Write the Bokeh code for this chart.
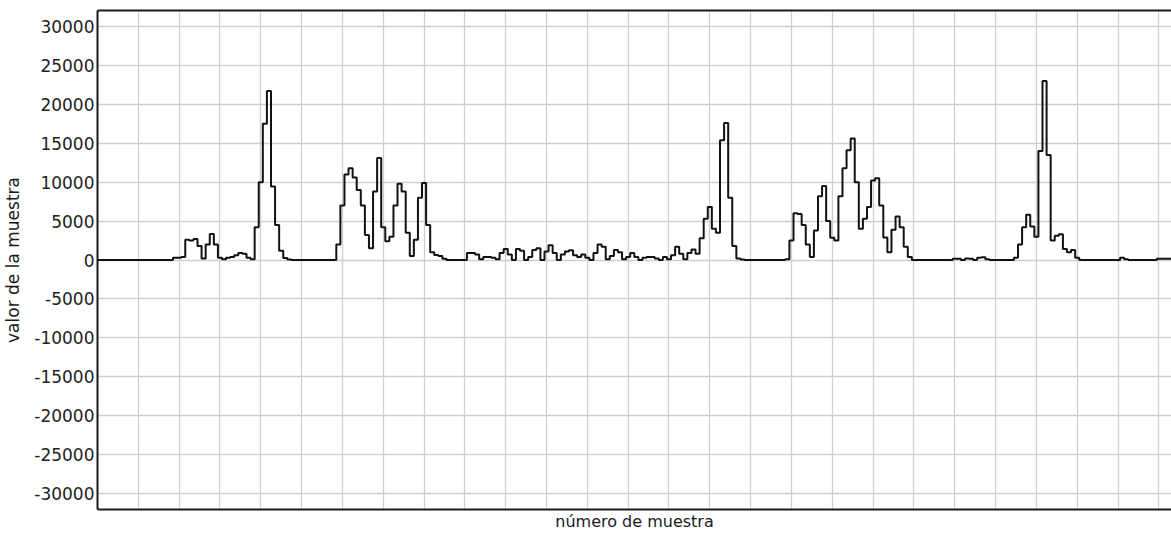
from bokeh.plotting import figure
from bokeh.models import Range1d, FixedTicker, LinearAxis
from bokeh.embed import file_html
from bokeh.resources import INLINE

# Amplitude of each sample (one value per sample index)
valores = (
    [0] * 19
    + [300, 300, 400, 2600, 2500, 2700, 1800, 200, 2000, 3350,
       2000, 300, 100, 300, 400, 600, 900, 800, 300, 100,
       4200, 10000, 17500, 21700, 9450, 4500, 1200, 250, 50]
    + [0] * 11
    + [2000, 7000, 11000, 11800, 10600, 9000, 7000, 3200, 1500, 8800,
       13100, 4200, 2400, 3000, 7000, 9800, 8800, 3500, 500, 2600,
       8000, 9900, 4500, 1000, 650, 500, 150]
    + [0] * 5
    + [900, 900, 700, 100, 400, 400, 300, 100, 900, 1400,
       700, 0, 1400, 1200, 0, 400, 1300, 1500, 0, 1100,
       1900, 900, 0, 700, 1100, 1250, 600, 400, 700, 300,
       0, 900, 2000, 1700, 100, 500, 1300, 1000, 100, 400,
       900, 400, 0, 300, 400, 400, 200, 0, 400, 100,
       600, 1700, 800, 100, 900, 1350, 800, 2800, 5300, 6800,
       4000, 3500, 15400, 17600, 8000, 1800, 200, 50]
    + [0] * 10
    + [100, 2500, 6000, 5900, 4500, 2000, 400, 3800, 8200, 9500,
       5000, 2850, 2500, 8200, 11800, 14100, 15600, 10000, 4000, 5300,
       6800, 10200, 10500, 7000, 2900, 1000, 3900, 5600, 4200, 1700,
       400]
    + [0] * 10
    + [150, 150, 0, 200, 150, 0, 300, 350, 100]
    + [0] * 6
    + [300, 2000, 4200, 5800, 4300, 3000, 14000, 23000, 13500, 2500,
       3100, 3300, 1400, 1000, 1300, 300]
    + [0] * 10
    + [300, 100]
    + [0] * 7
    + [150, 150, 150, 150]
)
muestras = list(range(len(valores)))

# Vertical axis ticks and their labels
y_ticks = [30000, 25000, 20000, 15000, 10000, 5000, 0,
           -5000, -10000, -15000, -20000, -25000, -30000]
y_tick_labels = ["30000", "25000", "20000", "15000", "10000", "5000", "0",
                 "-5000", "-10000", "-15000", "-20000", "-25000", "-30000"]

# Vertical grid every 10 samples
x_grid = list(range(0, 270, 10))

FONT = "DejaVu Sans"

p = figure(
    width=1171, height=533,
    output_backend="svg", toolbar_location=None,
    x_range=Range1d(0, 263.1), y_range=Range1d(-32060, 32060),
    min_border_left=97, min_border_top=10, min_border_bottom=24, min_border_right=0,
    x_axis_label="número de muestra", y_axis_label="valor de la muestra",
)
p.outline_line_color = None
p.background_fill_color = "white"
p.border_fill_color = "white"

# ticks / grid
p.xaxis.ticker = FixedTicker(ticks=[])
p.xgrid.ticker = FixedTicker(ticks=x_grid)
p.yaxis.ticker = FixedTicker(ticks=y_ticks)
p.yaxis.major_label_overrides = {t: s for t, s in zip(y_ticks, y_tick_labels)}
for g in (p.xgrid, p.ygrid):
    g.grid_line_color = "#cfcfcf"
    g.grid_line_width = 1.3

# axes
for ax in (p.xaxis, p.yaxis):
    ax.axis_line_color = "#1a1a1a"
    ax.axis_line_width = 2
    ax.major_tick_line_color = None
    ax.minor_tick_line_color = None
    ax.major_tick_out = 0
    ax.major_tick_in = 0
    ax.axis_label_text_font = FONT
    ax.axis_label_text_font_style = "normal"
    ax.axis_label_text_font_size = "17px"
    ax.axis_label_text_color = "#1a1a1a"

p.xaxis.major_label_standoff = 0
p.xaxis.axis_label_standoff = 2
p.xaxis.axis_label_text_font_size = "16px"

p.yaxis.major_label_text_font = FONT
p.yaxis.major_label_text_font_size = "17px"
p.yaxis.major_label_text_color = "#222222"
p.yaxis.major_label_standoff = 3
p.yaxis.axis_label_standoff = 8

# top border line
top = LinearAxis(ticker=FixedTicker(ticks=[]))
top.axis_line_color = "#1a1a1a"
top.axis_line_width = 2
top.major_tick_line_color = None
top.minor_tick_line_color = None
top.major_label_standoff = 0
top.major_tick_out = 0
top.major_tick_in = 0
p.add_layout(top, "above")

# waveform drawn as a sample-and-hold staircase
p.step(muestras, valores, mode="center", line_color="#111111", line_width=2)

open("out.html", "w").write(file_html(p, INLINE))
